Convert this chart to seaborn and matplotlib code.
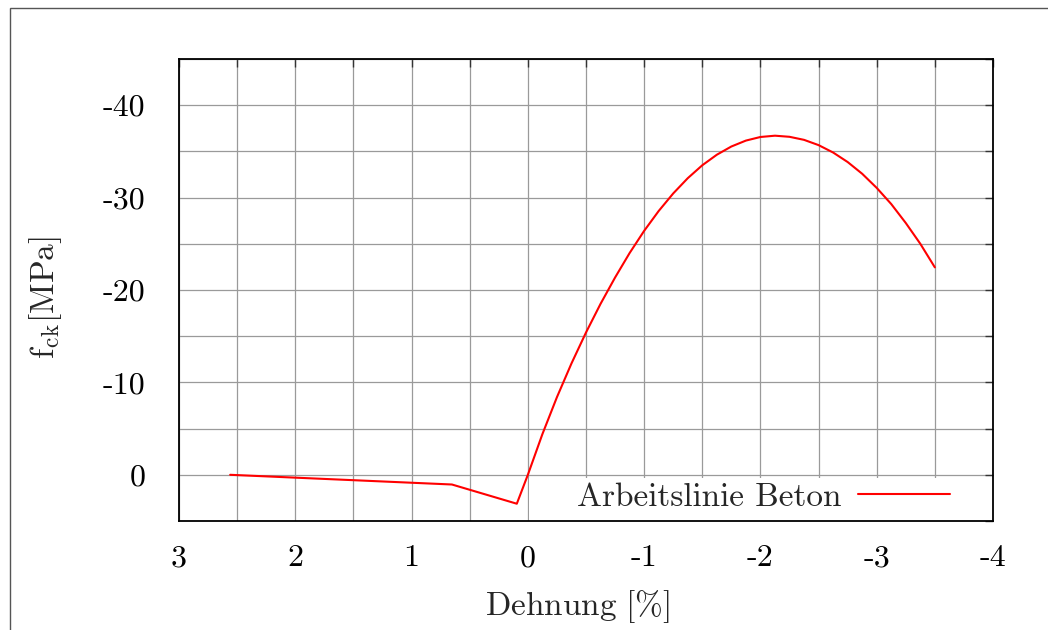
import matplotlib
matplotlib.use("Agg")
import matplotlib.pyplot as plt
from matplotlib.patches import Rectangle
import seaborn as sns
import pandas as pd

# ---- data ----
strain = [2.56, 0.653, 0.095, 0.0, -0.125, -0.25, -0.375, -0.5, -0.625,
          -0.75, -0.875, -1.0, -1.125, -1.25, -1.375, -1.5, -1.625, -1.75,
          -1.875, -2.0, -2.125, -2.25, -2.375, -2.5, -2.625, -2.75, -2.875,
          -3.0, -3.125, -3.25, -3.375, -3.5]
stress = [0.0, 1.05, 3.13, 0.0, -4.4, -8.4, -12.05, -15.4, -18.5,
          -21.35, -24.0, -26.4, -28.55, -30.45, -32.1, -33.5, -34.64, -35.53,
          -36.17, -36.56, -36.7, -36.58, -36.25, -35.68, -34.88, -33.85, -32.58,
          -31.05, -29.3, -27.25, -25.0, -22.45]
series_name = "Arbeitslinie Beton"

x_ticks = [3, 2.5, 2, 1.5, 1, 0.5, 0, -0.5, -1, -1.5, -2, -2.5, -3, -3.5, -4]
x_labels = ["3", "", "2", "", "1", "", "0", "", "-1", "", "-2", "", "-3", "", "-4"]
y_ticks = [5, 0, -5, -10, -15, -20, -25, -30, -35, -40, -45]
y_labels = ["", "0", "", "-10", "", "-20", "", "-30", "", "-40", ""]

df = pd.DataFrame({"strain": strain, "stress": stress})

sns.set_style("white")
plt.rcParams["font.family"] = ["cmr10", "DejaVu Serif"]
plt.rcParams["mathtext.fontset"] = "cm"
plt.rcParams["axes.unicode_minus"] = False

FS = 23
FS2 = 24
fig = plt.figure(figsize=(10.48, 6.30), dpi=100)
ax = fig.add_axes([179 / 1048, 1 - 521 / 630, 814 / 1048, 462 / 630])

# outer frame of the figure
fig.patches.append(Rectangle((10 / 1048, -0.1), 1.2, 1 - 8 / 630 + 0.1,
                             transform=fig.transFigure, fill=False,
                             edgecolor="#555555", linewidth=1.0))

ax.set_axisbelow(True)
ax.grid(True, color="#9a9a9a", linewidth=0.9)

# opaque key background
ax.add_patch(Rectangle(((529 - 179) / 814, 0), 1 - (529 - 179) / 814, (521 - 478) / 462,
                       transform=ax.transAxes, facecolor="white", edgecolor="none",
                       zorder=1))

sns.lineplot(data=df, x="strain", y="stress", sort=False, estimator=None,
             color="#ff0000", linewidth=1.5, ax=ax, label=series_name, zorder=3,
             solid_joinstyle="round")

ax.set_xlim(3, -4)
ax.set_ylim(5, -45)
ax.set_xticks(x_ticks)
ax.set_xticklabels(x_labels)
ax.set_yticks(y_ticks)
ax.set_yticklabels(y_labels)
ax.tick_params(axis="both", direction="in", length=6, width=1.0, color="#333333",
               top=True, right=True, labelsize=FS, colors="black")
ax.tick_params(axis="x", pad=17)
ax.tick_params(axis="y", pad=24)

for s in ax.spines.values():
    s.set_color("black")
    s.set_linewidth(1.3)

ax.set_xlabel(r"$\mathrm{Dehnung\ [\%]}$", fontsize=FS2)
ax.xaxis.set_label_coords(0.49, -(588 - 521) / 462)
ax.set_ylabel(r"$\mathrm{f_{ck}[MPa]}$", fontsize=FS2)
ax.yaxis.set_label_coords(-(179 - 64) / 814, (521 - 298) / 462)

leg = ax.legend(loc="center right", bbox_to_anchor=((950 - 179) / 814, (521 - 497) / 462),
                frameon=False, markerfirst=False, fontsize=FS2, borderpad=0,
                borderaxespad=0, handlelength=2.76, handletextpad=0.5)

fig.savefig("out.png", dpi=100)
